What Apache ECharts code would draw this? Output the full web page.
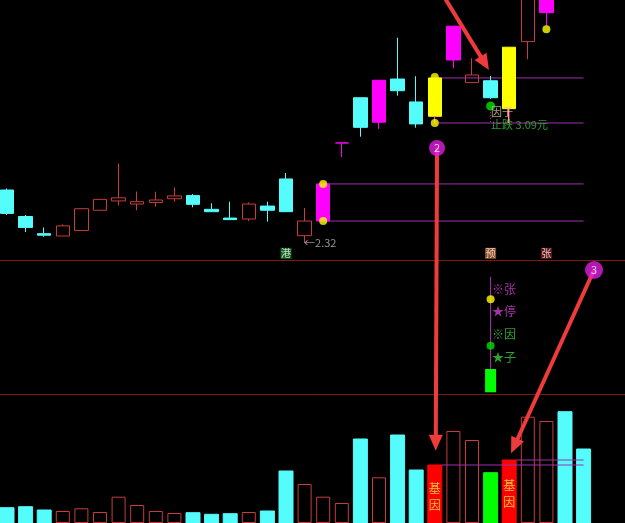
<!DOCTYPE html>
<html>
<head>
<meta charset="utf-8">
<script src="https://cdn.jsdelivr.net/npm/echarts@6.0.0/dist/echarts.min.js"></script>
<style>
html,body{margin:0;padding:0;background:#000;overflow:hidden;}
#chart{width:625px;height:523px;}
</style>
</head>
<body>
<div id="chart"></div>
<script>
// ---------------- data ----------------
const categories = ['D01','D02','D03','D04','D05','D06','D07','D08','D09','D10','D11','D12','D13','D14','D15','D16','D17',
  'D18','D19','D20','D21','D22','D23','D24','D25','D26','D27','D28','D29','D30','D31','D32','D33','D34'];
const opens  = [2.660,2.490,2.380,2.365,2.400,2.530,2.590,2.570,2.580,2.604,2.624,2.536,2.480,2.474,2.557,2.731,2.367,2.461,2.962,3.252,3.095,3.372,3.225,3.133,3.494,3.349,3.361,3.182,3.612,3.798,4.250,4.100];
const closes = [2.510,2.420,2.370,2.430,2.540,2.600,2.610,2.585,2.596,2.622,2.568,2.521,2.470,2.570,2.530,2.521,2.461,2.699,2.962,3.062,3.364,3.297,3.084,3.379,3.711,3.398,3.252,3.576,3.980,4.060,4.050,3.960];
const lows   = [2.500,2.390,2.360,2.365,2.397,2.530,2.560,2.530,2.553,2.585,2.549,2.521,2.470,2.461,2.457,2.521,2.320,2.461,2.872,3.002,3.052,3.265,3.060,3.090,3.441,3.349,3.245,3.090,3.499,3.712,3.950,3.920];
const highs  = [2.670,2.500,2.420,2.440,2.543,2.602,2.830,2.650,2.649,2.677,2.634,2.575,2.585,2.581,2.585,2.769,2.545,2.699,2.962,3.252,3.364,3.637,3.390,3.379,3.711,3.505,3.392,3.576,4.020,4.100,4.300,4.150];
const candleMarks = ['','','','','','','','','','','','','','','','','','M','M','','M','','','Y','M','','','Y','','M','',''];
const volumes = [15.3,16.3,13.0,12.0,14.7,11.0,26.3,18.0,12.0,10.0,10.3,8.7,9.3,11.0,12.0,52.0,39.0,26.3,20.0,84.0,45.7,88.0,53.0,58.0,92.0,83.0,50.3,63.0,106.3,102.0,111.3,74.0];
const volumeMarks = ['','','','','','','','','','','','','','','','','','','','','','','','R','','','G','R','','','',''];
const volumeMarkText = '基\n因';
const priceLevels = [
  {from:17, to:31, value:2.699},
  {from:17, to:31, value:2.461},
  {from:23, to:31, value:3.379},
  {from:23, to:31, value:3.090}
];
const volumeLevels = [
  {from:23, to:31, value:58},
  {from:27, to:31, value:63}
];
const yellowDots = [[17,2.699],[17,2.461],[23,3.385],[23,3.090],[29,3.691]];
const greenDots = [[26,3.199]];
const signalBoxes = [
  {i:15, text:'港', kind:'g'},
  {i:26, text:'预', kind:'o'},
  {i:29, text:'张', kind:'r'}
];
const factorIndex = 26;
const factorLabel = '因子';
const stopLabelPrefix = '止跌 ';
const stopLevel = 3.09;
const lowLabelIndex = 16;
// middle panel (indicator scale 0..134)
const midBar = {i:26, base:1.7, top:25};
const midStem = {i:26, top:117.3, bottom:25};
const midTexts = [
  {text:'※张', value:105.0, kind:'m'},
  {text:'★停', value:82.3, kind:'m'},
  {text:'※因', value:59.7, kind:'g'},
  {text:'★子', value:36.7, kind:'g'}
];
const midYellowDots = [[26,94.7]];
const midGreenDots = [[26,48.3]];
// annotations
const circles = [
  {label:'2', x:23.12, y:2.9295, xAxis:3, yAxis:0},
  {label:'3', x:31.56, y:124, xAxis:4, yAxis:1}
];
const arrows = [
  {from:{x:23.44, y:3.911, xa:3, ya:0}, to:{x:25.91, y:3.430, xa:3, ya:0}},
  {from:{x:23.12, y:2.9295, xa:3, ya:0}, to:{x:23.05, y:72.3, xa:5, ya:2}},
  {from:{x:31.56, y:124, xa:4, ya:1}, to:{x:27.10, y:69.7, xa:5, ya:2}}
];

// ---------------- styles ----------------
const C = {
  cyan:'#54fcfc', red:'#c83c3c', redFill:'#ff0000', green:'#00ff00',
  magenta:'#ff00ff', yellow:'#ffff00', level:'#a030b0', sep:'#801818',
  arrow:'#ef3b3b', circle:'#e01ee0', midM:'#d040d0', midG:'#3cc83c'
};
const FONT = '"Noto Sans CJK SC", "Noto Sans", sans-serif';
const boxColors = {g:'#1d7d25', o:'#b5602a', r:'#7d1c1c'};
const signalPrice = 2.254;
const halfBar = 7/18.6;

const candleData = opens.map((o,i)=>{
  const item = {value:[o, closes[i], lows[i], highs[i]]};
  const m = candleMarks[i];
  if (m) {
    const col = m === 'M' ? C.magenta : C.yellow;
    item.itemStyle = {color:col, color0:col, borderColor:col, borderColor0:col, borderColorDoji:col};
  }
  return item;
});

const volumeData = volumes.map((v,i)=>{
  const m = volumeMarks[i];
  let st;
  if (m === 'R') st = {color:C.redFill, borderColor:C.redFill};
  else if (m === 'G') st = {color:C.green, borderColor:C.green};
  else if (closes[i] >= opens[i]) st = {color:'rgba(0,0,0,0)', borderColor:C.red, borderWidth:1};
  else st = {color:C.cyan, borderColor:C.cyan};
  const item = {value:v, itemStyle:st};
  if (m === 'R') item.label = {show:true, position:'inside', formatter:volumeMarkText, color:'#f2c23a', fontSize:12, lineHeight:17, fontFamily:FONT, offset:[0,2.5]};
  return item;
});

const series = [];
priceLevels.forEach(l=>{
  series.push({type:'line', xAxisIndex:3, yAxisIndex:0, data:[[l.from,l.value],[l.to,l.value]], symbol:'none',
    lineStyle:{color:C.level, width:1}, z:1, silent:true});
});
series.push({type:'candlestick', xAxisIndex:0, yAxisIndex:0, barWidth:14, clip:true, z:3,
  itemStyle:{color:'rgba(0,0,0,0)', color0:C.cyan, borderColor:C.red, borderColor0:C.cyan, borderWidth:1},
  data:candleData});
candleMarks.forEach((m,i)=>{
  if (m === 'Y') series.push({type:'line', xAxisIndex:3, yAxisIndex:0, symbol:'none', z:4,
    data:[[i, Math.min(opens[i],closes[i])],[i, lows[i]]], lineStyle:{color:C.magenta, width:1}});
});
series.push({type:'line', xAxisIndex:3, yAxisIndex:0, symbol:'none', z:4,
  data:[[factorIndex, greenDots[0][1]],[factorIndex, stopLevel]], lineStyle:{color:C.level, width:1, type:[1,2]}});
series.push({type:'scatter', xAxisIndex:3, yAxisIndex:0, symbolSize:8, z:6, itemStyle:{color:C.yellow}, data:yellowDots});
series.push({type:'scatter', xAxisIndex:3, yAxisIndex:0, symbolSize:9, z:6, itemStyle:{color:'#00e000'}, data:greenDots});
series.push({type:'scatter', xAxisIndex:3, yAxisIndex:0, symbolSize:1, z:7, itemStyle:{color:'rgba(0,0,0,0)'},
  data:[
    {value:[factorIndex, 3.1604], label:{show:true, position:'right', distance:0, formatter:factorLabel, color:'#d9c79a', fontSize:11, fontFamily:FONT}},
    {value:[factorIndex, 3.077], label:{show:true, position:'right', distance:0, formatter:stopLabelPrefix + stopLevel.toFixed(2) + '元', color:'#36c036', fontSize:11, fontFamily:FONT}},
    {value:[lowLabelIndex, lows[lowLabelIndex]], label:{show:true, position:'right', distance:-1, formatter:'←' + lows[lowLabelIndex].toFixed(2), color:'#b8b8b8', fontSize:11, fontFamily:FONT}}
  ]});
series.push({type:'scatter', xAxisIndex:0, yAxisIndex:0, symbol:'rect', symbolSize:[11,11], z:6,
  data:signalBoxes.map(s=>({value:[s.i, signalPrice], itemStyle:{color:boxColors[s.kind]},
    label:{show:true, position:'inside', formatter:s.text, color:'#f4f4f4', fontSize:10, fontFamily:FONT}}))});
series.push({type:'bar', xAxisIndex:1, yAxisIndex:1, stack:'mid', barWidth:11, silent:true,
  itemStyle:{color:'rgba(0,0,0,0)'}, data:categories.map((c,i)=> i===midBar.i ? midBar.base : '-')});
series.push({type:'bar', xAxisIndex:1, yAxisIndex:1, stack:'mid', barWidth:11,
  itemStyle:{color:C.green}, data:categories.map((c,i)=> i===midBar.i ? (midBar.top - midBar.base) : '-')});
series.push({type:'line', xAxisIndex:4, yAxisIndex:1, symbol:'none', z:1,
  data:[[midStem.i, midStem.top],[midStem.i, midStem.bottom]], lineStyle:{color:'#b030b8', width:1}});
series.push({type:'scatter', xAxisIndex:4, yAxisIndex:1, symbolSize:1, z:6, itemStyle:{color:'rgba(0,0,0,0)'},
  data:midTexts.map(t=>({value:[midStem.i, t.value], label:{show:true, position:'right', distance:1, formatter:t.text,
    color:t.kind==='m'?C.midM:C.midG, fontSize:12, fontFamily:FONT}}))});
series.push({type:'scatter', xAxisIndex:4, yAxisIndex:1, symbolSize:8, z:6, itemStyle:{color:C.yellow}, data:midYellowDots});
series.push({type:'scatter', xAxisIndex:4, yAxisIndex:1, symbolSize:8, z:6, itemStyle:{color:'#00e000'}, data:midGreenDots});
series.push({type:'bar', xAxisIndex:2, yAxisIndex:2, barWidth:14, z:3, data:volumeData});
volumeLevels.forEach(l=>{
  series.push({type:'line', xAxisIndex:5, yAxisIndex:2, symbol:'none', z:5,
    data:[[l.from + halfBar, l.value],[l.to, l.value]], lineStyle:{color:C.level, width:1}});
});
circles.forEach(c=>{
  series.push({type:'scatter', xAxisIndex:c.xAxis, yAxisIndex:c.yAxis, symbolSize:c.label==='3'?18:16, z:20,
    itemStyle:{color:C.circle}, data:[{value:[c.x,c.y], label:{show:true, position:'inside', formatter:c.label, color:'#ffffff', fontSize:11, fontFamily:FONT}}]});
});

const hiddenCat = (g, line)=>({type:'category', gridIndex:g, data:categories, boundaryGap:true,
  axisLine:{show:line, onZero:false, lineStyle:{color:C.sep, width:1}}, axisTick:{show:false}, axisLabel:{show:false}, splitLine:{show:false}});
const hiddenVal = g=>({type:'value', gridIndex:g, min:-0.5, max:33.5, show:false, splitLine:{show:false}});

const gridBase = {left:-2.3, width:632.4, containLabel:false, outerBoundsMode:'none'};
const option = {
  backgroundColor:'#000',
  animation:false,
  grid:[
    Object.assign({top:0, height:260}, gridBase),
    Object.assign({top:260, height:134}, gridBase),
    Object.assign({top:394, height:129}, gridBase)
  ],
  xAxis:[hiddenCat(0,true), hiddenCat(1,true), hiddenCat(2,false), hiddenVal(0), hiddenVal(1), hiddenVal(2)],
  yAxis:[
    {type:'value', gridIndex:0, min:2.211, max:3.879, show:false, splitLine:{show:false}},
    {type:'value', gridIndex:1, min:0, max:134, show:false, splitLine:{show:false}},
    {type:'value', gridIndex:2, min:0, max:129, show:false, splitLine:{show:false}}
  ],
  series:series
};

const chart = echarts.init(document.getElementById('chart'));
chart.setOption(option);

const px = p => chart.convertToPixel({xAxisIndex:p.xa, yAxisIndex:p.ya}, [p.x, p.y]);
const graphics = [];
arrows.forEach(a=>{
  const S = px(a.from), T = px(a.to);
  const dx = T[0]-S[0], dy = T[1]-S[1];
  const len = Math.sqrt(dx*dx+dy*dy);
  const ux = dx/len, uy = dy/len;
  const L = 16, W = 7;
  const B = [T[0]-ux*L, T[1]-uy*L];
  graphics.push({type:'line', z:10, shape:{x1:S[0], y1:S[1], x2:T[0]-ux*(L-3), y2:T[1]-uy*(L-3)},
    style:{stroke:C.arrow, lineWidth:4}});
  graphics.push({type:'polygon', z:10, shape:{points:[T, [B[0]-uy*W, B[1]+ux*W], [B[0]+uy*W, B[1]-ux*W]]},
    style:{fill:C.arrow}});
});
chart.setOption({graphic:graphics});
</script>
</body>
</html>
